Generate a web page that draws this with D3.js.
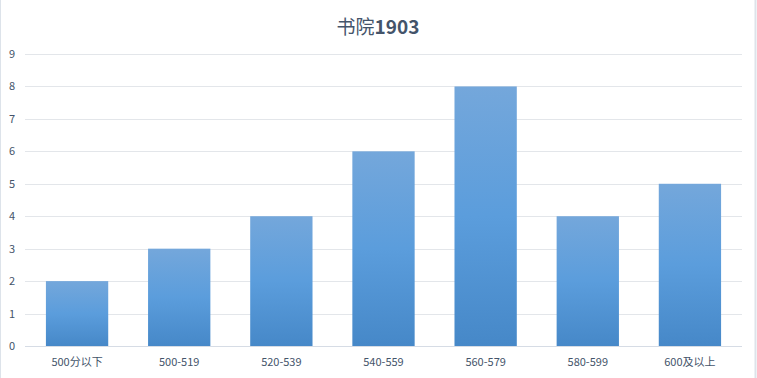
<!DOCTYPE html>
<html>
<head>
<meta charset="utf-8">
<script src="https://cdn.jsdelivr.net/npm/d3@7"></script>
<style>
  body { margin: 0; background: #fff; }
  svg { display: block; font-family: "Microsoft YaHei", "Noto Sans CJK SC", "DejaVu Sans", sans-serif; }
</style>
</head>
<body>
<svg id="chart" width="757" height="378"></svg>
<script>
const title_cn = '书院'
const title_num = '1903'
const categories = ['500分以下', '500-519', '520-539', '540-559', '560-579', '580-599', '600及以上']
const counts = [2, 3, 4, 6, 8, 4, 5]
const y_ticks = [0, 1, 2, 3, 4, 5, 6, 7, 8, 9]

const svg = d3.select('#chart')

// frame edges
svg.append('line').attr('x1', 0.5).attr('x2', 0.5).attr('y1', 0).attr('y2', 378)
  .style('stroke', '#dde3ea').style('stroke-width', 1)
svg.append('line').attr('x1', 755.5).attr('x2', 755.5).attr('y1', 0).attr('y2', 378)
  .style('stroke', '#dde3ea').style('stroke-width', 2)

// gradient for bars
let defs = svg.append('defs')
let grad = defs.append('linearGradient').attr('id', 'bar-grad')
  .attr('x1', 0).attr('y1', 0).attr('x2', 0).attr('y2', 1)
grad.append('stop').attr('offset', '0%').attr('stop-color', '#74a7db')
grad.append('stop').attr('offset', '50%').attr('stop-color', '#5b9ddc')
grad.append('stop').attr('offset', '100%').attr('stop-color', '#4688c8')

let x = d3.scaleBand().domain(categories).range([26, 741]).paddingInner(0.39).paddingOuter(0.195)
let y = d3.scaleLinear().domain([0, 9]).range([346, 54])

// gridlines
svg.append('g').selectAll('line').data(y_ticks).join('line')
  .attr('x1', 25).attr('x2', 742)
  .attr('y1', d => Math.round(y(d)) + 0.5).attr('y2', d => Math.round(y(d)) + 0.5)
  .style('stroke', d => d == 0 ? '#d6dce5' : '#e3e6ea')
  .style('stroke-width', 1)

// bars
svg.append('g').selectAll('rect').data(counts).join('rect')
  .attr('x', (d, i) => x(categories[i]))
  .attr('width', x.bandwidth())
  .attr('y', d => y(d))
  .attr('height', d => y(0) - y(d))
  .style('fill', 'url(#bar-grad)')

// y axis labels
svg.append('g').selectAll('text').data(y_ticks).join('text')
  .attr('x', 12).attr('y', d => y(d) + 4)
  .attr('text-anchor', 'middle')
  .style('font-size', '11px')
  .style('fill', '#44546a')
  .text(d => d)

// x axis labels
svg.append('g').selectAll('text').data(categories).join('text')
  .attr('x', d => x(d) + x.bandwidth() / 2).attr('y', 366)
  .attr('text-anchor', 'middle')
  .style('font-size', '11px')
  .style('fill', '#44546a')
  .text(d => d)

// title
let title = svg.append('text')
  .attr('x', 378).attr('y', 34)
  .attr('text-anchor', 'middle')
  .style('font-size', '19px')
  .style('fill', '#44546a')
title.append('tspan').style('font-weight', 'normal').text(title_cn)
title.append('tspan').style('font-weight', 'bold').text(title_num)
</script>
</body>
</html>
